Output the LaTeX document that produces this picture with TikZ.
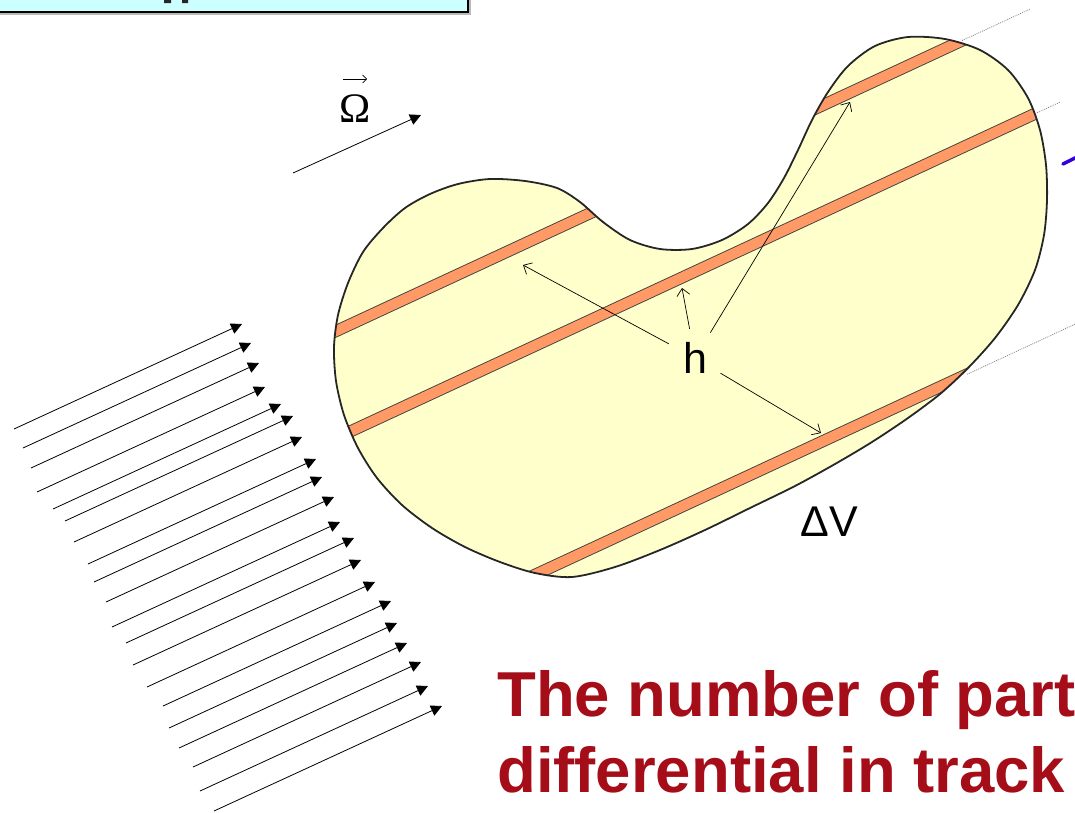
\documentclass[tikz,border=0pt]{standalone}
\usepackage{fontspec}
\setmainfont{Liberation Sans}
\newfontfamily\serifgreek{Liberation Serif}
\usetikzlibrary{arrows.meta}
\definecolor{blobyellow}{RGB}{255,255,204}
\definecolor{stripeorange}{RGB}{255,153,102}
\definecolor{boxcyan}{RGB}{204,255,255}
\definecolor{titlered}{RGB}{165,13,25}
\definecolor{markblue}{RGB}{51,0,221}

% outline of the volume element
\newcommand{\blobshape}{plot[smooth cycle] coordinates {(334,347) (338,315) (348,283) (363,252) (383,228) (405,208)
  (430,194) (458,184) (490,179) (525,181) (557,188) (580,202) (603,222) (630,240) (660,249) (692,249) (722,240)
  (748,224) (768,203) (784,178) (798,150) (812,120) (828,92) (848,66) (875,46) (908,37) (945,39) (980,50)
  (1008,70) (1028,98) (1040,130) (1046,165) (1047,200) (1044,235) (1035,270) (1018,305) (995,338) (968,368)
  (940,394) (908,418) (872,442) (835,464) (795,486) (750,508) (705,530) (660,550) (615,567) (572,577)
  (535,573) (500,562) (465,547) (432,528) (402,505) (377,478) (358,448) (344,415) (336,381)}}

\begin{document}
\begin{tikzpicture}[x=1pt,y=-1pt,
    beam/.style={line width=0.8pt,-{Triangle[length=11pt,width=11pt]}},
    hdist/.style={line width=0.7pt,-{Straight Barb[length=7pt,width=13pt]}},
    stripeline/.style={line width=10.2pt,draw=stripeorange,preaction={draw=black!75,line width=12pt}},
    trackext/.style={gray,line width=0.7pt,dash pattern=on 1pt off 1pt},
    biglabel/.style={font=\fontsize{43}{50}\selectfont}]
  \useasboundingbox (0,0) rectangle (1075,812);

  % box at the top
  \fill[gray!55] (-10,-50) rectangle (471,15);
  \draw[line width=1.5pt,fill=boxcyan] (-10,-50) rectangle (468,12);
  \fill[black!85] (164,0) rectangle (171,3) (182,0) rectangle (188,3);

  % rotation vector
  \coordinate (omtail) at (293,173);
  \coordinate (omhead) at (421,115);
  \draw[beam] (omtail) -- (omhead);
  \node[anchor=base,inner sep=0pt,font=\serifgreek\fontsize{42}{46}\selectfont] (omega) at (355,122) {Ω};
  \draw[line width=0.7pt,-{Straight Barb[length=4pt,width=8pt]}] ([xshift=-12pt,yshift=15pt]omega.north) -- ++(24,0);

  % incoming flux
  \foreach \sx/\sy in {14/429,23/448,31/468,37/492,53/509,65/521,74/542,88/564,94/582,106/602,
                       112/627,126/643,133/665,147/687,163/706,169/728,179/748,193/767,200/791,214/811}
    \draw[beam] (\sx,\sy) -- ++(228,-105);

  % volume with tracks
  \fill[blobyellow] \blobshape;
  \begin{scope}
    \clip \blobshape;
    \draw[stripeline] (300,347.8) -- (1100,-23.4);
    \draw[stripeline] (300,454.8) -- (1100,83.6);
    \draw[stripeline] (300,683.8) -- (1100,312.6);
  \end{scope}
  \draw[line width=1.8pt,black!85] \blobshape;
  \draw[trackext] (962,40.6) -- (1030,9.1);
  \draw[trackext] (1037,112.8) -- (1060,102.2);
  \draw[trackext] (967,374.3) -- (1078,322.8);

  \draw[markblue,line width=3.5pt,line cap=round] (1063,164) -- (1079,156);

  % spacing labels
  \node[biglabel,circle,inner sep=7pt] (hlbl) at (695,358) {h};
  \coordinate (hA) at (523,265);
  \coordinate (hB) at (682,288);
  \coordinate (hC) at (850,102);
  \coordinate (hD) at (821,433);
  \draw[hdist] (hlbl) -- (hA);
  \draw[hdist] (hlbl) -- (hB);
  \draw[hdist] (hlbl) -- (hC);
  \draw[hdist] (hlbl) -- (hD);
  \node[biglabel] (dvlbl) at (829,522) {ΔV};

  % caption
  \node[anchor=base west,inner sep=0pt,text=titlered,font=\fontsize{63.5}{77}\selectfont\bfseries] (cap1) at (497,716) {The number of part};
  \node[anchor=base west,inner sep=0pt,text=titlered,font=\fontsize{63.5}{77}\selectfont\bfseries] (cap2) at (497,792) {differential in track};
\end{tikzpicture}
\end{document}
